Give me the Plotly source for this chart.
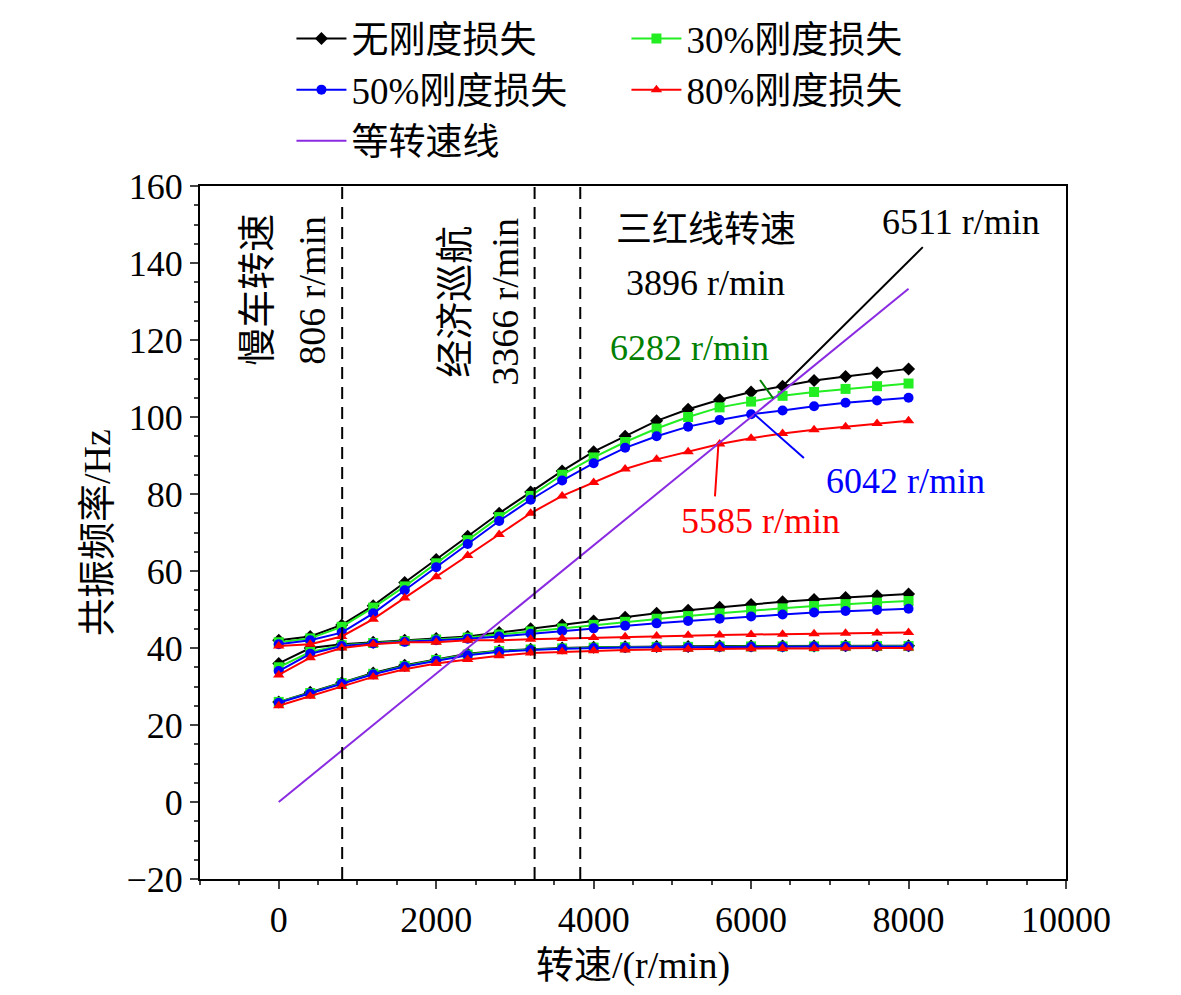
import plotly.graph_objects

def series_chart(fig, speeds, modes, name, color, symbol):
    first = True
    for mode in modes:
        fig.add_trace(
            plotly.graph_objects.Scatter(
                x=speeds,
                y=mode,
                mode='lines+markers',
                line=dict(color=color, width=2),
                marker=dict(symbol=symbol, size=10, color=color),
                name=name,
                legendgroup=name,
                showlegend=first
            )
        )
        first = False
    return fig

def note(fig, x, y, text, color='black', angle=0, ax=None, ay=None, size=36):
    fig.add_annotation(
        x=x, y=y, text=text, textangle=angle,
        showarrow=ax is not None,
        ax=ax, ay=ay, axref='x', ayref='y',
        arrowhead=0, arrowwidth=2, arrowcolor=color,
        font=dict(color=color, size=size)
    )

if __name__ == '__main__':

    # Rotational speed in r/min
    speeds = list(range(0, 8001, 400))

    # Three resonance modes for each stiffness case
    data = {
        '无刚度损失': ('black', 'diamond', [
            [26, 28.5, 31, 33.5, 35.5, 37, 38.5, 39.3, 39.7, 40, 40.2, 40.3, 40.4, 40.4, 40.5, 40.5, 40.5, 40.5, 40.6, 40.6, 40.6],
            [36, 40, 41, 41.5, 42, 42.5, 43, 44, 45, 46, 47, 48, 49, 49.8, 50.6, 51.3, 52, 52.6, 53.1, 53.6, 54],
            [42, 43, 46, 51, 57, 63, 69, 75, 80.5, 86, 91, 95, 99, 102, 104.5, 106.5, 108, 109.5, 110.5, 111.5, 112.5]]),
        '30%刚度损失': ('#22ee22', 'square', [
            [26, 28.3, 30.9, 33.3, 35.3, 36.9, 38.3, 39.2, 39.6, 39.9, 40.1, 40.2, 40.3, 40.3, 40.4, 40.4, 40.4, 40.4, 40.5, 40.5, 40.5],
            [35, 39, 40.7, 41.3, 41.8, 42.2, 42.7, 43.5, 44.3, 45.1, 46, 46.8, 47.6, 48.3, 49, 49.7, 50.3, 50.9, 51.4, 51.8, 52.2],
            [41.5, 42.5, 45.5, 50.5, 56, 62, 68, 74, 79.5, 85, 89.5, 93.5, 97, 100, 102.5, 104, 105.5, 106.5, 107.3, 108, 108.7]]),
        '50%刚度损失': ('blue', 'circle', [
            [25.8, 28.2, 30.8, 33.2, 35.2, 36.7, 38.1, 39, 39.5, 39.8, 40, 40.1, 40.2, 40.2, 40.3, 40.3, 40.3, 40.4, 40.4, 40.4, 40.4],
            [34, 38.5, 40.5, 41.2, 41.6, 42, 42.4, 43, 43.7, 44.4, 45.1, 45.8, 46.4, 47, 47.6, 48.2, 48.7, 49.2, 49.6, 49.9, 50.2],
            [41, 42, 44, 49, 55, 61, 67, 73, 78.5, 83.5, 88, 92, 95, 97.5, 99.2, 100.7, 101.7, 102.8, 103.7, 104.3, 105]]),
        '80%刚度损失': ('red', 'triangle-up', [
            [25, 27.5, 30, 32.5, 34.5, 36, 37, 38, 38.7, 39, 39.3, 39.5, 39.6, 39.7, 39.8, 39.8, 39.9, 39.9, 40, 40, 40],
            [33, 37.5, 40, 41, 41.5, 41.5, 42, 42, 42.3, 42.5, 42.7, 42.9, 43.1, 43.3, 43.4, 43.5, 43.6, 43.7, 43.8, 43.9, 44],
            [40.5, 41, 43, 47.5, 53, 58.5, 64, 69.5, 75, 79.5, 83, 86.5, 89, 91, 93, 94.5, 95.7, 96.7, 97.5, 98.3, 99]]),
    }

    fig = plotly.graph_objects.Figure()
    for name, (color, symbol, modes) in data.items():
        fig = series_chart(fig, speeds, modes, name, color, symbol)

    # Isospeed line: frequency equals rotational speed / 60
    fig.add_trace(
        plotly.graph_objects.Scatter(
            x=[0, 8000], y=[0, 8000 / 60], mode='lines',
            line=dict(color='#8a2be2', width=2), name='等转速线'
        )
    )

    # Characteristic speeds
    for speed in [806, 3250, 3830]:
        fig.add_shape(type='line', x0=speed, x1=speed, y0=-20, y1=160,
                      line=dict(color='black', width=2, dash='12px,8px'))

    note(fig, -280, 133, '慢车转速', angle=-90, size=38)
    note(fig, 420, 133, '806 r/min', angle=-90, size=38)
    note(fig, 2230, 130, '经济巡航', angle=-90, size=38)
    note(fig, 2866, 130, '3366 r/min', angle=-90, size=38)
    note(fig, 5427, 148.6, '三红线转速')
    note(fig, 5427, 134.8, '3896 r/min')
    note(fig, 8660, 150.6, '6511 r/min')
    note(fig, 6400, 108, '', ax=8200, ay=144.5)
    note(fig, 5220, 117.9, '6282 r/min', color='green')
    note(fig, 6282, 104.8, '', color='green', ax=6100, ay=110)
    note(fig, 7960, 83.5, '6042 r/min', color='blue')
    note(fig, 6042, 100.7, '', color='blue', ax=6690, ay=89)
    note(fig, 6115, 73, '5585 r/min', color='red')
    note(fig, 5585, 93, '', color='red', ax=5540, ay=79)

    axis = dict(showline=True, linecolor='black', linewidth=2, mirror=True,
                ticks='outside', ticklen=8, tickwidth=2, showgrid=False, zeroline=False,
                minor=dict(ticks='outside', ticklen=4, tickwidth=1.5),
                tickfont=dict(size=36), title_font=dict(size=38), automargin=False,
                tickformat='d')
    fig.update_xaxes(axis, range=[-1000, 10000], dtick=2000, title_text='转速/(r/min)', title_standoff=12)
    fig.update_yaxes(axis, range=[-20, 160], dtick=20, title_text='共振频率/Hz', title_standoff=4)

    fig.update_layout(
        width=1181, height=995,
        template='plotly_white',
        font=dict(family='Liberation Serif, Noto Sans CJK SC', color='black'),
        margin=dict(l=192, r=123, t=178, b=124),
        showlegend=True,
        legend=dict(orientation='h', x=0.24, y=1.0, xref='container', yref='container',
                    yanchor='top', entrywidth=270, font=dict(size=37), tracegroupgap=0,
                    itemwidth=50),
        plot_bgcolor='white'
    )

    fig.write_html('out.html')
